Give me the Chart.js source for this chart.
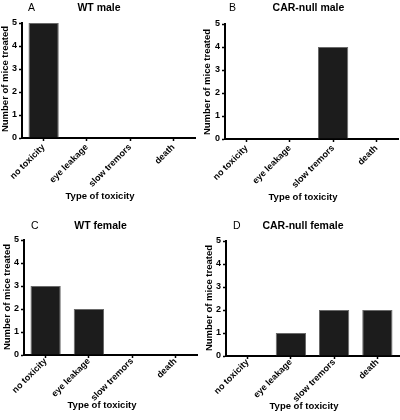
<!DOCTYPE html>
<html>
<head>
<meta charset="utf-8">
<script src="https://cdn.jsdelivr.net/npm/chart.js@4/dist/chart.umd.min.js"></script>
<style>
  html, body { margin: 0; padding: 0; background: #fff; }
  #wrap { position: relative; width: 400px; height: 420px; overflow: hidden; font-family: "Liberation Sans", Arial, sans-serif; color: #000; }
  canvas { position: absolute; }
  .t { position: absolute; white-space: nowrap; line-height: 1; }
  .title { font-size: 10.5px; font-weight: bold; transform: translateX(-50%); }
  .letter { font-size: 10.5px; font-weight: normal; }
  .xt { font-size: 9.5px; font-weight: bold; transform: translateX(-50%); }
  .yt { font-size: 9.5px; font-weight: bold; transform: translate(-50%, -50%) rotate(-90deg); }
</style>
</head>
<body>
<div id="wrap">
  <canvas id="cA" width="200" height="210" style="left:0;top:0"></canvas>
  <canvas id="cB" width="200" height="210" style="left:200px;top:0"></canvas>
  <canvas id="cC" width="200" height="210" style="left:0;top:210px"></canvas>
  <canvas id="cD" width="200" height="210" style="left:200px;top:210px"></canvas>

  <div class="t letter" style="left:28px;top:1.6px">A</div>
  <div class="t title" style="left:99px;top:1.6px">WT male</div>
  <div class="t letter" style="left:229px;top:1.6px">B</div>
  <div class="t title" style="left:308.5px;top:1.6px">CAR-null male</div>
  <div class="t letter" style="left:31px;top:219.6px">C</div>
  <div class="t title" style="left:100.5px;top:219.6px">WT female</div>
  <div class="t letter" style="left:233px;top:219.6px">D</div>
  <div class="t title" style="left:303px;top:219.6px">CAR-null female</div>

  <div class="t yt" style="left:5px;top:79px">Number of mice treated</div>
  <div class="t yt" style="left:207px;top:82px">Number of mice treated</div>
  <div class="t yt" style="left:7px;top:297px">Number of mice treated</div>
  <div class="t yt" style="left:209px;top:298px">Number of mice treated</div>

  <div class="t xt" style="left:100px;top:190.8px">Type of toxicity</div>
  <div class="t xt" style="left:303px;top:191.8px">Type of toxicity</div>
  <div class="t xt" style="left:102px;top:400.3px">Type of toxicity</div>
  <div class="t xt" style="left:304px;top:400.8px">Type of toxicity</div>
</div>
<script>
// ---- data ----
const categories = ['no toxicity', 'eye leakage', 'slow tremors', 'death'];
const wtMale = [5, 0, 0, 0];
const carNullMale = [0, 0, 4, 0];
const wtFemale = [3, 2, 0, 0];
const carNullFemale = [0, 1, 2, 2];
const yTickValues = [0, 1, 2, 3, 4, 5];

const FONT = '"Liberation Sans", Arial, sans-serif';

function makePanel(id, values, area) {
  const W = 200, H = 210, plotW = 173;
  new Chart(document.getElementById(id), {
    type: 'bar',
    data: {
      labels: categories,
      datasets: [{
        data: values,
        backgroundColor: '#1c1c1c',
        borderColor: '#6a6a6a',
        borderWidth: 1,
        borderSkipped: 'bottom',
        barPercentage: 0.7,
        categoryPercentage: 1.0
      }]
    },
    options: {
      responsive: false,
      devicePixelRatio: 1,
      animation: false,
      layout: { padding: { left: 0, top: area.top, right: W - area.left - plotW, bottom: 0 } },
      plugins: { legend: { display: false }, tooltip: { enabled: false }, title: { display: false } },
      scales: {
        x: {
          type: 'category',
          offset: true,
          grid: { display: true, drawOnChartArea: false, drawTicks: true, tickLength: 3, tickWidth: 1.5, tickColor: '#000', offset: false },
          border: { display: true, color: '#000', width: 2 },
          ticks: {
            autoSkip: false, minRotation: 45, maxRotation: 45, color: '#000', padding: area.labelPad,
            font: { family: FONT, size: 9, weight: 'bold' }
          },
          afterFit(s) { s.height = H - area.bottom; s.paddingLeft = 0; s.paddingRight = 0; }
        },
        y: {
          min: 0, max: 5,
          afterBuildTicks(s) { s.ticks = yTickValues.map(v => ({ value: v })); },
          grid: { display: true, drawOnChartArea: false, drawTicks: true, tickLength: 3, tickWidth: 1.5, tickColor: '#000' },
          border: { display: true, color: '#000', width: 2 },
          ticks: { color: '#000', padding: 2, font: { family: FONT, size: 9, weight: 'bold' } },
          afterFit(s) { s.width = area.left; s.paddingTop = 0; s.paddingBottom = 0; }
        }
      }
    }
  });
}

makePanel('cA', wtMale,        { left: 22, top: 23, bottom: 138, labelPad: 1 });
makePanel('cB', carNullMale,   { left: 25, top: 24, bottom: 139, labelPad: 1 });
makePanel('cC', wtFemale,      { left: 24, top: 30, bottom: 145, labelPad: -2 });
makePanel('cD', carNullFemale, { left: 26, top: 31, bottom: 146, labelPad: -2 });
</script>
</body>
</html>
